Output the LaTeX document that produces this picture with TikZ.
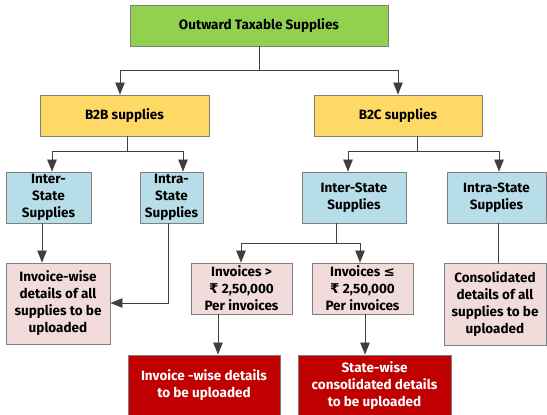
\documentclass[tikz,border=0pt]{standalone}
\usepackage{fontspec}
\setmainfont{Fira Sans}
\newfontfamily\symfont{DejaVu Sans}
\usetikzlibrary{arrows.meta}
\definecolor{topgreen}{HTML}{92D050}
\definecolor{midyellow}{HTML}{FFD966}
\definecolor{paleblue}{HTML}{B7DEE8}
\definecolor{palepink}{HTML}{F2DCDB}
\definecolor{deepred}{HTML}{C00000}
\definecolor{edgegray}{HTML}{7F7F7F}
\definecolor{linegray}{HTML}{3F3F3F}
\newcommand{\rupee}{{\symfont\bfseries ₹}}
\newcommand{\leqsym}{{\symfont\bfseries ≤}}
\tikzset{
  boxfont/.style={font=\fontsize{13.5}{17}\selectfont\bfseries},
  box/.style={draw=edgegray, line width=0.9pt, inner sep=0pt, align=center,
    boxfont, text=black},
  topbox/.style={box, fill=topgreen},
  catbox/.style={box, fill=midyellow},
  statebox/.style={box, fill=paleblue},
  detailbox/.style={box, fill=palepink},
  resultbox/.style={box, fill=deepred, text=white},
  resulttext/.style={boxfont, text=white, align=center, inner sep=0pt},
  link/.style={draw=linegray, line width=0.8pt},
  arr/.style={link, -{Triangle[length=12pt,width=9.5pt]}},
}
\begin{document}
\begin{tikzpicture}[x=1pt,y=-1pt]
\useasboundingbox (0,0) rectangle (547,415);
\begin{scope}
\clip (0,0) rectangle (547,415);

% top level
\node[topbox, minimum width=258pt, minimum height=41pt] (top) at (259,25.5) {Outward Taxable Supplies};

% second level
\node[catbox, minimum width=169pt, minimum height=41pt] (b2b) at (124.5,115.5) {B2B supplies};
\node[catbox, minimum width=168pt, minimum height=41pt] (b2c) at (398,115.5) {B2C supplies};

% supply type boxes
\node[statebox, minimum width=85pt, minimum height=51pt] (interL) at (48.5,197.5) {Inter-\\State\\Supplies};
\node[statebox, minimum width=63pt, minimum height=51pt] (intraL) at (171.5,197.5) {Intra-\\State\\Supplies};
\node[statebox, minimum width=104pt, minimum height=51pt] (interR) at (354,197.5) {Inter-State\\Supplies};
\node[statebox, minimum width=99pt, minimum height=51pt] (intraR) at (496.5,197.5) {Intra-State\\Supplies};

% detail boxes
\node[detailbox, minimum width=104pt, minimum height=81pt] (invwise) at (58,303.5) {Invoice-wise\\details of all\\supplies to be\\uploaded};
\node[detailbox, minimum width=101pt, minimum height=51pt] (above) at (241.5,288.5) {Invoices >\\\rupee\ 2,50,000\\Per invoices};
\node[detailbox, minimum width=101pt, minimum height=51pt] (below) at (362.5,288.5) {Invoices \leqsym\\\rupee\ 2,50,000\\Per invoices};
\node[detailbox, minimum width=102pt, minimum height=82pt] (consol) at (495,304) {Consolidated\\details of all\\supplies to be\\uploaded};

% outcome boxes (they run past the lower edge)
\node[resultbox, minimum width=152pt, minimum height=63pt] (resL) at (204,386.5) {};
\node[resulttext] (resLtext) at (204,385) {Invoice -wise details\\to be uploaded};
\node[resultbox, minimum width=153pt, minimum height=63pt] (resR) at (374.5,386.5) {};
\node[resulttext] (resRtext) at (374.5,385.5) {State-wise\\consolidated details\\to be uploaded};
\end{scope}

% connectors from the top box
\coordinate (jTop) at (259,70.7);
\draw[link] (top.south) -- (jTop);
\draw[arr] (jTop) -| ([xshift=-4.5pt]b2b.north);
\draw[arr] (jTop) -| (b2c.north);

% B2B branch
\coordinate (jB2B) at (127,151);
\draw[link] (b2b.south -| jB2B) -- (jB2B);
\draw[arr] (jB2B) -| ([xshift=3.5pt]interL.north);
\draw[arr] (jB2B) -| ([xshift=11.5pt]intraL.north);

% B2C branch
\coordinate (jB2C) at (417,151);
\draw[link] (b2c.south -| jB2C) -- (jB2C);
\draw[arr] (jB2C) -| ([xshift=-6pt]interR.north);
\draw[arr] (jB2C) -| ([xshift=2.5pt]intraR.north);

% B2B details
\draw[arr] ([xshift=-6.5pt]interL.south) -- ([xshift=-16pt]invwise.north);
\coordinate (bendIntra) at (168,303);
\draw[arr] (intraL.south -| bendIntra) -- (bendIntra) -- (invwise.east |- bendIntra);

% B2C inter-state split by invoice value
\coordinate (jInter) at (336,243);
\draw[link] (interR.south -| jInter) -- (jInter);
\draw[arr] (jInter) -| ([xshift=-0.5pt]above.north);
\draw[arr] (jInter) -| ([xshift=-2.5pt]below.north);
\draw[link] ([xshift=1.5pt]intraR.south) -- (consol.north -| 498,0);

% outcomes
\draw[arr] ([xshift=-23.5pt]above.south) -- (resL.north -| 218,0);
\draw[arr] ([xshift=2.5pt]below.south) -- (resR.north -| 365,0);
\end{tikzpicture}
\end{document}
